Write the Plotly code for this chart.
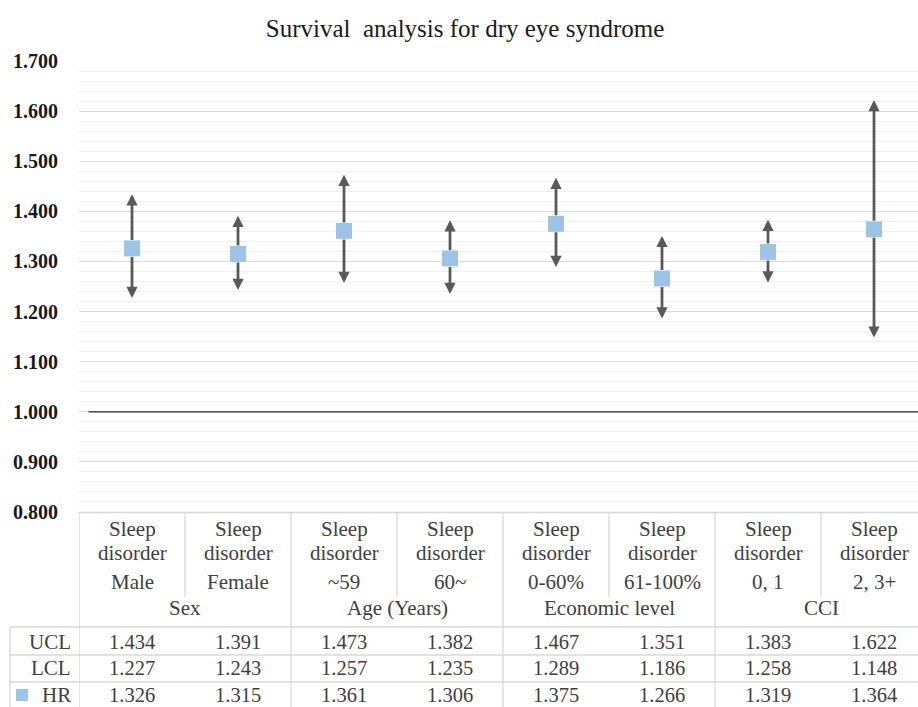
import plotly.graph_objects as go

# ---------------- data ----------------
title_text = "Survival  analysis for dry eye syndrome"
row_top = ["Sleep"] * 8
row_mid = ["disorder"] * 8
sub_labels = ["Male", "Female", "~59", "60~", "0-60%", "61-100%", "0, 1", "2, 3+"]
group_labels = ["Sex", "Age (Years)", "Economic level", "CCI"]
ucl = [1.434, 1.391, 1.473, 1.382, 1.467, 1.351, 1.383, 1.622]
lcl = [1.227, 1.243, 1.257, 1.235, 1.289, 1.186, 1.258, 1.148]
hr = [1.326, 1.315, 1.361, 1.306, 1.375, 1.266, 1.319, 1.364]
ref_value = 1.0
y_ticks = [0.8, 0.9, 1.0, 1.1, 1.2, 1.3, 1.4, 1.5, 1.6, 1.7]

# ---------------- layout helpers ----------------
W, H = 918, 707
PLOT_TOP, PLOT_BOT = 61, 512
PLOT_LEFT = 79
CAT_W = 106
SERIF = "Liberation Serif"
TXT = "#404040"
LINE = "#d9d9d9"
n = len(sub_labels)
x = list(range(n))
x_right = -0.5 + (W - PLOT_LEFT) / CAT_W


def py(px):
    return (PLOT_BOT - px) / (PLOT_BOT - PLOT_TOP)


def pxx(px):
    return (px - PLOT_LEFT) / (W - PLOT_LEFT)


fig = go.Figure()

# HR markers
fig.add_trace(go.Scatter(
    x=x, y=hr, mode="markers",
    marker=dict(symbol="square", size=16, color="#9DC3E6",
                line=dict(width=0)),
    showlegend=False, hoverinfo="skip"))

annotations = []
# Confidence interval arrows
for i in x:
    for end in (ucl[i], lcl[i]):
        annotations.append(dict(
            x=i, y=end, xref="x", yref="y",
            ax=i, ay=hr[i], axref="x", ayref="y",
            text="", showarrow=True, arrowhead=2, arrowsize=0.8,
            arrowwidth=2.8, arrowcolor="#595959", startstandoff=7,
            standoff=0))

tfont = dict(family=SERIF, size=21, color=TXT)
nfont = dict(family=SERIF, size=20.5, color=TXT)


def tab_text(xv, ypx, text, font, xref="x", xanchor="center"):
    annotations.append(dict(x=xv, y=py(ypx), xref=xref, yref="paper", text=text,
                            xanchor=xanchor, yanchor="middle", showarrow=False,
                            font=font))


# Table texts
for i in x:
    tab_text(i, 529, row_top[i], tfont)
    tab_text(i, 553, row_mid[i], tfont)
    tab_text(i, 582, sub_labels[i], tfont)
    for vals, ypx in ((ucl, 642), (lcl, 668), (hr, 695)):
        tab_text(i, ypx, f"{vals[i]:.3f}", nfont)
for g, lab in enumerate(group_labels):
    tab_text(2 * g + 0.5, 608, lab, tfont)
for lab, ypx in (("UCL", 642), ("LCL", 668), ("HR", 695)):
    tab_text(pxx(73), ypx, lab, tfont, xref="paper", xanchor="right")

shapes = []
# reference line at 1.000
shapes.append(dict(type="line", xref="x", yref="y", x0=-0.41, x1=x_right,
                   y0=ref_value, y1=ref_value, line=dict(color="#262626", width=1.3)))


def hline(ypx, x0px, x1px=W):
    shapes.append(dict(type="line", xref="paper", yref="paper",
                       x0=pxx(x0px), x1=pxx(x1px), y0=py(ypx), y1=py(ypx),
                       line=dict(color=LINE, width=1.3)))


def vline_cat(xc, y0px, y1px):
    shapes.append(dict(type="line", xref="x", yref="paper",
                       x0=xc, x1=xc, y0=py(y0px), y1=py(y1px),
                       line=dict(color=LINE, width=1.3)))


hline(512.5, 78)
hline(627, 10)
hline(655, 10)
hline(682, 10)
vline_cat(-0.5, 512.5, 710)
for b in (1.5, 3.5, 5.5):
    vline_cat(b, 512.5, 710)
for b in (0.5, 2.5, 4.5, 6.5):
    vline_cat(b, 512.5, 597)
shapes.append(dict(type="line", xref="paper", yref="paper", x0=pxx(10), x1=pxx(10),
                   y0=py(627), y1=py(710), line=dict(color=LINE, width=1.3)))
# HR legend key
shapes.append(dict(type="rect", xref="paper", yref="paper",
                   x0=pxx(16), x1=pxx(28), y0=py(701), y1=py(689),
                   fillcolor="#9DC3E6", line=dict(width=0)))

fig.update_layout(
    width=W, height=H,
    margin=dict(l=PLOT_LEFT, r=0, t=PLOT_TOP, b=H - PLOT_BOT, autoexpand=False),
    paper_bgcolor="white", plot_bgcolor="white",
    title=dict(text=title_text, x=465 / W, xanchor="center", y=1 - 28 / H,
               yanchor="middle", font=dict(family=SERIF, size=25, color="#1a1a1a")),
    annotations=annotations, shapes=shapes, showlegend=False,
)
fig.update_xaxes(range=[-0.5, x_right], showticklabels=False, showgrid=False,
                 zeroline=False, showline=False, ticks="", automargin=False)
fig.update_yaxes(range=[0.8, 1.7], tickvals=y_ticks, tickformat=".3f",
                 tickfont=dict(family=SERIF, size=20, color="#1a1a1a", weight="bold"),
                 showgrid=True, gridcolor="#d9d9d9", gridwidth=1,
                 minor=dict(dtick=0.02, showgrid=True, gridcolor="#efefef", gridwidth=1),
                 zeroline=False, showline=False, ticks="", ticklabelstandoff=20,
                 automargin=False)

fig.write_html("out.html", config={"displayModeBar": False},
               post_script="document.body.style.margin='0px';document.body.style.padding='0px';")
